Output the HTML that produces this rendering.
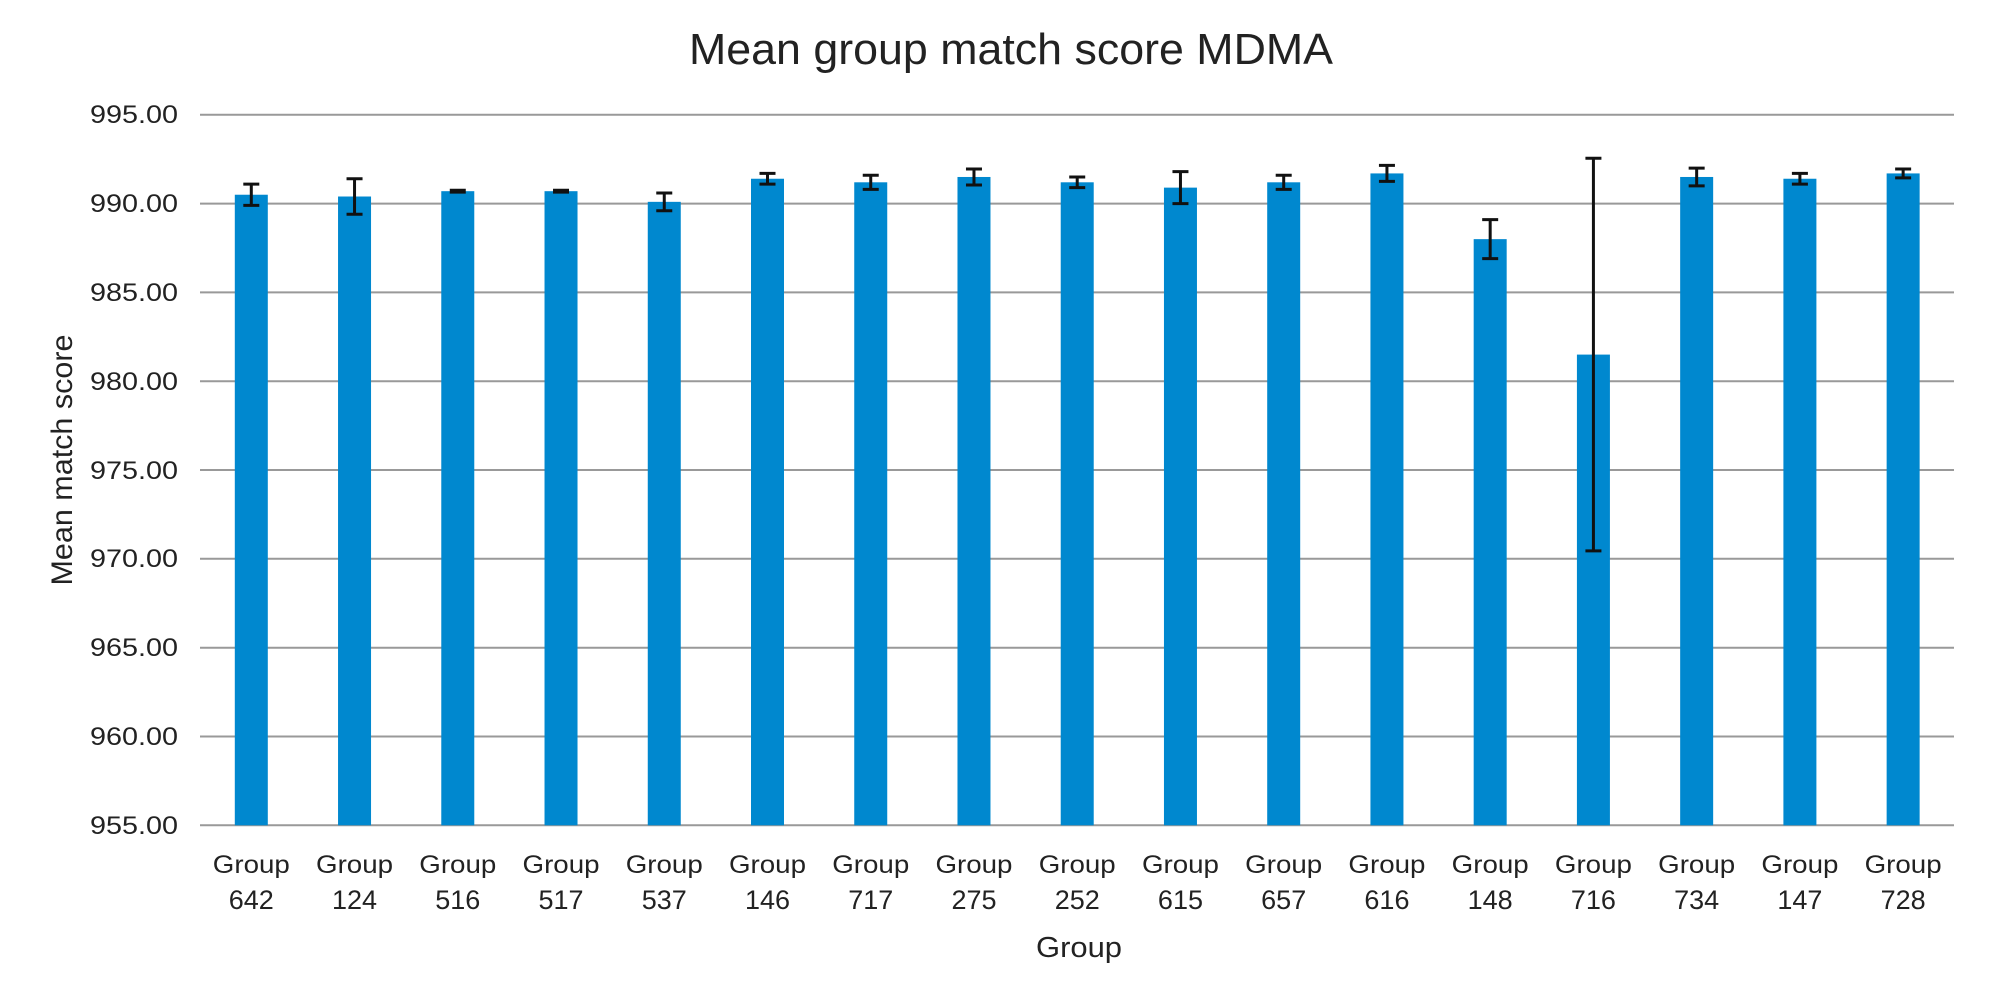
<!DOCTYPE html>
<html><head><meta charset="utf-8"><style>
html,body{margin:0;padding:0;background:#fff;}
svg{display:block;}
text{font-family:"Liberation Sans",sans-serif;fill:#222;}
</style></head><body>
<svg width="2000" height="1000" viewBox="0 0 2000 1000" xmlns="http://www.w3.org/2000/svg">
<text x="1011" y="64" font-size="44" text-anchor="middle" textLength="644" lengthAdjust="spacingAndGlyphs">Mean group match score MDMA</text>
<g stroke="#999" stroke-width="2">
<line x1="200" x2="1954" y1="114.8" y2="114.8"/>
<line x1="200" x2="1954" y1="203.6" y2="203.6"/>
<line x1="200" x2="1954" y1="292.4" y2="292.4"/>
<line x1="200" x2="1954" y1="381.2" y2="381.2"/>
<line x1="200" x2="1954" y1="470.0" y2="470.0"/>
<line x1="200" x2="1954" y1="558.8" y2="558.8"/>
<line x1="200" x2="1954" y1="647.7" y2="647.7"/>
<line x1="200" x2="1954" y1="736.5" y2="736.5"/>
<line x1="200" x2="1954" y1="825.3" y2="825.3"/>
</g>
<g font-size="25" text-anchor="end">
<text x="178" y="123" textLength="88" lengthAdjust="spacingAndGlyphs">995.00</text>
<text x="178" y="212" textLength="88" lengthAdjust="spacingAndGlyphs">990.00</text>
<text x="178" y="301" textLength="88" lengthAdjust="spacingAndGlyphs">985.00</text>
<text x="178" y="390" textLength="88" lengthAdjust="spacingAndGlyphs">980.00</text>
<text x="178" y="479" textLength="88" lengthAdjust="spacingAndGlyphs">975.00</text>
<text x="178" y="567" textLength="88" lengthAdjust="spacingAndGlyphs">970.00</text>
<text x="178" y="656" textLength="88" lengthAdjust="spacingAndGlyphs">965.00</text>
<text x="178" y="745" textLength="88" lengthAdjust="spacingAndGlyphs">960.00</text>
<text x="178" y="834" textLength="88" lengthAdjust="spacingAndGlyphs">955.00</text>
</g>
<text transform="translate(72,460) rotate(-90)" font-size="30" text-anchor="middle" textLength="251" lengthAdjust="spacingAndGlyphs">Mean match score</text>
<text x="1079" y="957" font-size="29" text-anchor="middle" textLength="86" lengthAdjust="spacingAndGlyphs">Group</text>

<g fill="#0088cf">
<rect x="234.8" y="194.73" width="33" height="630.57"/>
<rect x="338.04" y="196.51" width="33" height="628.79"/>
<rect x="441.28" y="191.18" width="33" height="634.12"/>
<rect x="544.52" y="191.18" width="33" height="634.12"/>
<rect x="647.76" y="201.84" width="33" height="623.46"/>
<rect x="751" y="178.74" width="33" height="646.56"/>
<rect x="854.24" y="182.3" width="33" height="643"/>
<rect x="957.48" y="176.97" width="33" height="648.33"/>
<rect x="1060.72" y="182.3" width="33" height="643"/>
<rect x="1163.96" y="187.63" width="33" height="637.67"/>
<rect x="1267.2" y="182.3" width="33" height="643"/>
<rect x="1370.44" y="173.42" width="33" height="651.88"/>
<rect x="1473.68" y="239.14" width="33" height="586.16"/>
<rect x="1576.92" y="354.59" width="33" height="470.71"/>
<rect x="1680.16" y="176.97" width="33" height="648.33"/>
<rect x="1783.4" y="178.74" width="33" height="646.56"/>
<rect x="1886.64" y="173.42" width="33" height="651.88"/>
</g>

<g stroke="#111" stroke-width="3" fill="none">
<path d="M251.3 184.07V205.39M243.3 184.07H259.3M243.3 205.39H259.3"/>
<path d="M354.54 178.75V214.27M346.54 178.75H362.54M346.54 214.27H362.54"/>
<path d="M449.78 190.29H465.78M449.78 192.07H465.78"/>
<path d="M553.02 190.29H569.02M553.02 192.07H569.02"/>
<path d="M664.26 192.96V210.72M656.26 192.96H672.26M656.26 210.72H672.26"/>
<path d="M767.5 173.41V184.07M759.5 173.41H775.5M759.5 184.07H775.5"/>
<path d="M870.74 175.2V189.4M862.74 175.2H878.74M862.74 189.4H878.74"/>
<path d="M973.98 168.98V184.96M965.98 168.98H981.98M965.98 184.96H981.98"/>
<path d="M1077.22 176.97V187.63M1069.22 176.97H1085.22M1069.22 187.63H1085.22"/>
<path d="M1180.46 171.64V203.62M1172.46 171.64H1188.46M1172.46 203.62H1188.46"/>
<path d="M1283.7 175.2V189.4M1275.7 175.2H1291.7M1275.7 189.4H1291.7"/>
<path d="M1386.94 165.43V181.41M1378.94 165.43H1394.94M1378.94 181.41H1394.94"/>
<path d="M1490.18 219.6V258.68M1482.18 219.6H1498.18M1482.18 258.68H1498.18"/>
<path d="M1593.42 158.31V550.87M1585.42 158.31H1601.42M1585.42 550.87H1601.42"/>
<path d="M1696.66 168.09V185.85M1688.66 168.09H1704.66M1688.66 185.85H1704.66"/>
<path d="M1799.9 173.41V184.07M1791.9 173.41H1807.9M1791.9 184.07H1807.9"/>
<path d="M1903.14 168.98V177.86M1895.14 168.98H1911.14M1895.14 177.86H1911.14"/>
</g>

<g font-size="25" text-anchor="middle">
<text x="251.3" y="873" textLength="77" lengthAdjust="spacingAndGlyphs">Group</text>
<text x="354.54" y="873" textLength="77" lengthAdjust="spacingAndGlyphs">Group</text>
<text x="457.78" y="873" textLength="77" lengthAdjust="spacingAndGlyphs">Group</text>
<text x="561.02" y="873" textLength="77" lengthAdjust="spacingAndGlyphs">Group</text>
<text x="664.26" y="873" textLength="77" lengthAdjust="spacingAndGlyphs">Group</text>
<text x="767.5" y="873" textLength="77" lengthAdjust="spacingAndGlyphs">Group</text>
<text x="870.74" y="873" textLength="77" lengthAdjust="spacingAndGlyphs">Group</text>
<text x="973.98" y="873" textLength="77" lengthAdjust="spacingAndGlyphs">Group</text>
<text x="1077.22" y="873" textLength="77" lengthAdjust="spacingAndGlyphs">Group</text>
<text x="1180.46" y="873" textLength="77" lengthAdjust="spacingAndGlyphs">Group</text>
<text x="1283.7" y="873" textLength="77" lengthAdjust="spacingAndGlyphs">Group</text>
<text x="1386.94" y="873" textLength="77" lengthAdjust="spacingAndGlyphs">Group</text>
<text x="1490.18" y="873" textLength="77" lengthAdjust="spacingAndGlyphs">Group</text>
<text x="1593.42" y="873" textLength="77" lengthAdjust="spacingAndGlyphs">Group</text>
<text x="1696.66" y="873" textLength="77" lengthAdjust="spacingAndGlyphs">Group</text>
<text x="1799.9" y="873" textLength="77" lengthAdjust="spacingAndGlyphs">Group</text>
<text x="1903.14" y="873" textLength="77" lengthAdjust="spacingAndGlyphs">Group</text>
</g>
<g font-size="27" text-anchor="middle">
<text x="251.3" y="909">642</text>
<text x="354.54" y="909">124</text>
<text x="457.78" y="909">516</text>
<text x="561.02" y="909">517</text>
<text x="664.26" y="909">537</text>
<text x="767.5" y="909">146</text>
<text x="870.74" y="909">717</text>
<text x="973.98" y="909">275</text>
<text x="1077.22" y="909">252</text>
<text x="1180.46" y="909">615</text>
<text x="1283.7" y="909">657</text>
<text x="1386.94" y="909">616</text>
<text x="1490.18" y="909">148</text>
<text x="1593.42" y="909">716</text>
<text x="1696.66" y="909">734</text>
<text x="1799.9" y="909">147</text>
<text x="1903.14" y="909">728</text>
</g>
</svg>
</body></html>
